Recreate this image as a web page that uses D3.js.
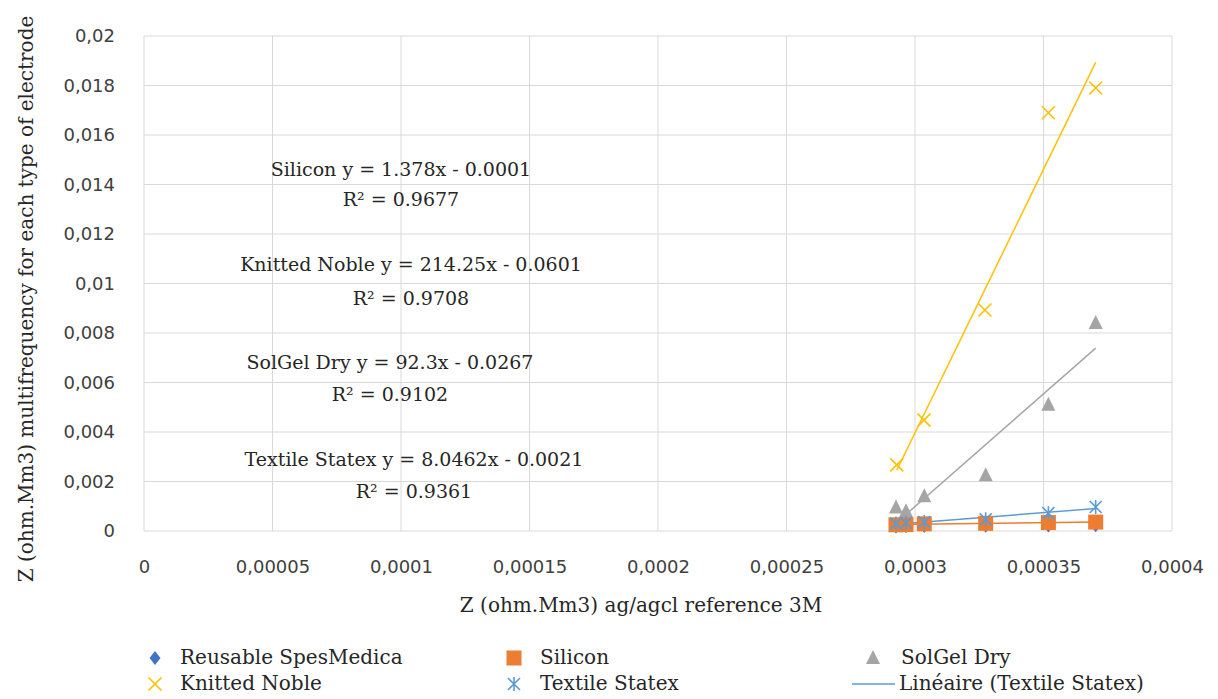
<!DOCTYPE html>
<html>
<head>
<meta charset="utf-8">
<script src="https://cdn.jsdelivr.net/npm/d3@7"></script>
<style>
  html, body { margin: 0; padding: 0; background: #fff; }
  svg { display: block; }
</style>
</head>
<body>
<svg id="chart" width="1218" height="699"></svg>
<script>
// ---- data ----
const seriesNames = ["Reusable SpesMedica", "Silicon", "SolGel Dry", "Knitted Noble", "Textile Statex"];
const reusableX = [0.0002926, 0.0002965, 0.0003036, 0.0003275, 0.0003519, 0.0003703];
const reusableY = [0.00018, 0.00019, 0.0002, 0.00021, 0.00022, 0.00023];
const siliconX  = [0.0002926, 0.0002965, 0.0003036, 0.0003275, 0.0003519, 0.0003703];
const siliconY  = [0.00025, 0.00026, 0.00029, 0.00031, 0.00034, 0.00036];
const solgelX   = [0.0002926, 0.0002965, 0.0003036, 0.0003275, 0.0003519, 0.0003703];
const solgelY   = [0.00095, 0.0008, 0.0014, 0.00225, 0.0051, 0.0084];
const knittedX  = [0.0002929, 0.0003035, 0.0003272, 0.0003519, 0.0003703];
const knittedY  = [0.00267, 0.00448, 0.00893, 0.0169, 0.0179];
const textileX  = [0.0002926, 0.0002965, 0.0003036, 0.0003275, 0.0003519, 0.0003703];
const textileY  = [0.0003, 0.00033, 0.00036, 0.00047, 0.00072, 0.00097];
// series that carry a linear trendline, and the printed equations
const trendNames = ["Silicon", "Knitted Noble", "SolGel Dry", "Textile Statex"];
const trendEqText = ["Silicon y = 1.378x - 0.0001", "Knitted Noble y = 214.25x - 0.0601", "SolGel Dry y = 92.3x - 0.0267", "Textile Statex y = 8.0462x - 0.0021"];
const trendR2Text = ["R² = 0.9677", "R² = 0.9708", "R² = 0.9102", "R² = 0.9361"];
const xTicks = [0, 0.00005, 0.0001, 0.00015, 0.0002, 0.00025, 0.0003, 0.00035, 0.0004];
const xTickLabels = ["0", "0,00005", "0,0001", "0,00015", "0,0002", "0,00025", "0,0003", "0,00035", "0,0004"];
const yTicks = [0, 0.002, 0.004, 0.006, 0.008, 0.01, 0.012, 0.014, 0.016, 0.018, 0.02];
const yTickLabels = ["0", "0,002", "0,004", "0,006", "0,008", "0,01", "0,012", "0,014", "0,016", "0,018", "0,02"];
const xTitle = "Z (ohm.Mm3) ag/agcl reference 3M";
const yTitle = "Z (ohm.Mm3) multifrequency for each type of electrode";
const legendTrendLabel = "Linéaire (Textile Statex)";

(function () {
const colors = {
  "Reusable SpesMedica": "#4472C4",
  "Silicon": "#ED7D31",
  "SolGel Dry": "#A5A5A5",
  "Knitted Noble": "#FFC000",
  "Textile Statex": "#5B9BD5"
};
const sansFont = "'DejaVu Sans', sans-serif";
const serifFont = "'DejaVu Serif', serif";
const tickColor = "#404040";
const textColor = "#262626";

const svg = d3.select("#chart");
const pL = 144, pR = 1172, pT = 36, pB = 531;
const x = d3.scaleLinear().domain([0, 0.0004]).range([pL, pR]);
const y = d3.scaleLinear().domain([0, 0.02]).range([pB, pT]);

// gridlines
svg.append("g").selectAll("line").data(yTicks).join("line")
  .attr("x1", pL).attr("x2", pR)
  .attr("y1", d => y(d)).attr("y2", d => y(d))
  .attr("stroke", "#d9d9d9").attr("stroke-width", 1);
svg.append("g").selectAll("line").data(xTicks).join("line")
  .attr("y1", pT).attr("y2", pB)
  .attr("x1", d => x(d)).attr("x2", d => x(d))
  .attr("stroke", "#d9d9d9").attr("stroke-width", 1);

// axes (labels only)
const xAxis = d3.axisBottom(x).tickValues(xTicks).tickFormat((d, i) => xTickLabels[i]).tickSize(0).tickPadding(29);
const gx = svg.append("g").attr("transform", `translate(0,${pB})`).call(xAxis);
gx.select(".domain").remove();
gx.selectAll("text").attr("font-family", sansFont).attr("font-size", 18).attr("fill", tickColor);

const yAxis = d3.axisLeft(y).tickValues(yTicks).tickFormat((d, i) => yTickLabels[i]).tickSize(0).tickPadding(29);
const gy = svg.append("g").attr("transform", `translate(${pL},0)`).call(yAxis);
gy.select(".domain").remove();
gy.selectAll("text").attr("font-family", sansFont).attr("font-size", 18).attr("fill", tickColor);

// axis titles
svg.append("text").attr("x", 641).attr("y", 612)
  .attr("text-anchor", "middle").attr("font-family", serifFont).attr("font-size", 20)
  .attr("fill", textColor).text(xTitle);
svg.append("text").attr("transform", `translate(33,299) rotate(-90)`)
  .attr("text-anchor", "middle").attr("font-family", serifFont).attr("font-size", 20)
  .attr("fill", textColor).text(yTitle);

// least-squares trendlines computed from the series data
const trendSeries = { "Silicon": [siliconX, siliconY], "Knitted Noble": [knittedX, knittedY],
  "SolGel Dry": [solgelX, solgelY], "Textile Statex": [textileX, textileY] };
trendNames.forEach(name => {
  const [xs, ys] = trendSeries[name];
  const mx = d3.mean(xs), my = d3.mean(ys);
  const sxy = d3.sum(xs, (v, i) => (v - mx) * (ys[i] - my));
  const sxx = d3.sum(xs, v => (v - mx) * (v - mx));
  const b = sxy / sxx, a = my - b * mx;
  const [x0, x1] = d3.extent(xs);
  svg.append("line")
    .attr("x1", x(x0)).attr("y1", y(a + b * x0))
    .attr("x2", x(x1)).attr("y2", y(a + b * x1))
    .attr("stroke", colors[name]).attr("stroke-width", 1.5);
});

function marker(g, name, cx, cy) {
  const c = colors[name];
  if (name === "Reusable SpesMedica") {
    g.append("path").attr("d", `M${cx},${cy-7}L${cx+5.5},${cy}L${cx},${cy+7}L${cx-5.5},${cy}Z`).attr("fill", c);
  } else if (name === "Silicon") {
    g.append("rect").attr("x", cx - 7.5).attr("y", cy - 7.5).attr("width", 15).attr("height", 15).attr("fill", c);
  } else if (name === "SolGel Dry") {
    g.append("path").attr("d", `M${cx},${cy-8}L${cx+7},${cy+6}L${cx-7},${cy+6}Z`).attr("fill", c);
  } else if (name === "Knitted Noble") {
    g.append("path").attr("d", `M${cx-6.5},${cy-6.5}L${cx+6.5},${cy+6.5}M${cx+6.5},${cy-6.5}L${cx-6.5},${cy+6.5}`)
      .attr("stroke", c).attr("stroke-width", 1.6).attr("fill", "none");
  } else if (name === "Textile Statex") {
    g.append("path").attr("d", `M${cx-6},${cy-6}L${cx+6},${cy+6}M${cx+6},${cy-6}L${cx-6},${cy+6}M${cx},${cy-7}L${cx},${cy+7}`)
      .attr("stroke", c).attr("stroke-width", 1.6).attr("fill", "none");
  }
}

const seriesData = [
  [seriesNames[0], reusableX, reusableY],
  [seriesNames[1], siliconX, siliconY],
  [seriesNames[2], solgelX, solgelY],
  [seriesNames[3], knittedX, knittedY],
  [seriesNames[4], textileX, textileY]
];
const gPts = svg.append("g");
seriesData.forEach(([name, xs, ys]) => {
  xs.forEach((xv, i) => marker(gPts, name, x(xv), y(ys[i])));
});

// equation labels
const eqPos = [[401, 176, 206], [411, 271, 305], [390, 369, 401], [414, 466, 498]];
trendEqText.forEach((t, i) => {
  svg.append("text").attr("x", eqPos[i][0]).attr("y", eqPos[i][1]).attr("text-anchor", "middle")
    .attr("font-family", serifFont).attr("font-size", 19).attr("fill", textColor).text(t);
  svg.append("text").attr("x", eqPos[i][0]).attr("y", eqPos[i][2]).attr("text-anchor", "middle")
    .attr("font-family", serifFont).attr("font-size", 19).attr("fill", textColor).text(trendR2Text[i]);
});

// legend
const legendItems = [
  [seriesNames[0], 155, 658, 180], [seriesNames[1], 514, 658, 540], [seriesNames[2], 873, 658, 901],
  [seriesNames[3], 155, 684, 180], [seriesNames[4], 514, 684, 540]
];
const gLeg = svg.append("g");
legendItems.forEach(([name, lx, ly, tx]) => {
  marker(gLeg, name, lx, ly);
  gLeg.append("text").attr("x", tx).attr("y", ly + 6).attr("font-family", serifFont)
    .attr("font-size", 20).attr("fill", textColor).text(name);
});
gLeg.append("line").attr("x1", 852).attr("x2", 895).attr("y1", 684).attr("y2", 684)
  .attr("stroke", colors["Textile Statex"]).attr("stroke-width", 1.5);
gLeg.append("text").attr("x", 899).attr("y", 690).attr("font-family", serifFont)
  .attr("font-size", 20).attr("fill", textColor).text(legendTrendLabel);
})();
</script>
</body>
</html>
